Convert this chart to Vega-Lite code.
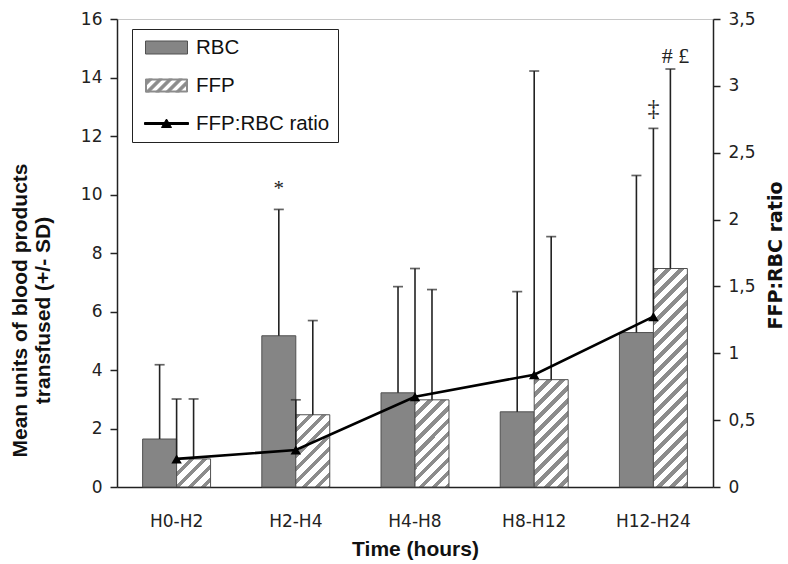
{
  "$schema": "https://vega.github.io/schema/vega-lite/v6.json",
  "width": 596,
  "height": 468,
  "autosize": {"type": "none"},
  "padding": {"left": 117, "top": 19, "right": 75, "bottom": 77},
  "background": "white",
  "config": {"view": {"stroke": "#c8c8c8", "strokeWidth": 1}, "font": "DejaVu Sans"},
  "datasets": {
    "bars": [
      {"time": "H0-H2", "series": "RBC", "value": 1.64, "upper": 4.18},
      {"time": "H0-H2", "series": "FFP", "value": 0.96, "upper": 3.01},
      {"time": "H2-H4", "series": "RBC", "value": 5.17, "upper": 9.49},
      {"time": "H2-H4", "series": "FFP", "value": 2.47, "upper": 5.69},
      {"time": "H4-H8", "series": "RBC", "value": 3.22, "upper": 6.85},
      {"time": "H4-H8", "series": "FFP", "value": 2.98, "upper": 6.75},
      {"time": "H8-H12", "series": "RBC", "value": 2.57, "upper": 6.68},
      {"time": "H8-H12", "series": "FFP", "value": 3.67, "upper": 8.56},
      {"time": "H12-H24", "series": "RBC", "value": 5.28, "upper": 10.65},
      {"time": "H12-H24", "series": "FFP", "value": 7.47, "upper": 14.29}
    ],
    "ratio": [
      {"time": "H0-H2", "ratio": 0.21, "upper": 0.658},
      {"time": "H2-H4", "ratio": 0.277, "upper": 0.652},
      {"time": "H4-H8", "ratio": 0.675, "upper": 1.634},
      {"time": "H8-H12", "ratio": 0.84, "upper": 3.111},
      {"time": "H12-H24", "ratio": 1.274, "upper": 2.682}
    ],
    "notesOffset": [
      {"time": "H2-H4", "series": "RBC", "y": 10.2, "label": "*"}
    ],
    "notesFFP": [
      {"time": "H12-H24", "series": "FFP", "y": 14.72, "label": "# £"}
    ],
    "notesCenter": [
      {"time": "H12-H24", "y": 12.94, "label": "‡"}
    ],
    "legendItems": [
      {"item": "RBC"}, {"item": "FFP"}, {"item": "FFP:RBC ratio"}
    ]
  },
  "encoding": {
    "x": {
      "field": "time",
      "type": "nominal",
      "scale": {"domain": ["H0-H2", "H2-H4", "H4-H8", "H8-H12", "H12-H24"], "paddingInner": 0.43, "paddingOuter": 0.215},
      "title": "Time (hours)",
      "axis": {
        "labelAngle": 0, "labelFontSize": 17, "labelFont": "DejaVu Sans", "labelColor": "#222",
        "ticks": false, "labelPadding": 26, "domainColor": "#222", "domainWidth": 1.5, "grid": false,
        "titleFont": "Liberation Sans Narrow, Arial Narrow, Liberation Sans", "titleFontSize": 21, "titleFontWeight": "bold",
        "titleColor": "#111", "titlePadding": 9
      }
    }
  },
  "layer": [
    {
      "layer": [
        {
          "data": {"name": "bars"},
          "mark": {"type": "bar", "stroke": "#505050", "strokeWidth": 1},
          "encoding": {
            "xOffset": {"field": "series", "type": "nominal", "scale": {"domain": ["RBC", "FFP"], "paddingInner": 0, "paddingOuter": 0}},
            "y": {
              "field": "value", "type": "quantitative", "scale": {"domain": [0, 16]},
              "axis": {
                "values": [0, 2, 4, 6, 8, 10, 12, 14, 16], "labelFontSize": 17, "labelFont": "DejaVu Sans", "labelColor": "#222",
                "labelPadding": 8, "tickSize": 7, "tickColor": "#222", "tickWidth": 1.5, "domainColor": "#222", "domainWidth": 1.5,
                "grid": false, "titleFont": "Liberation Sans Narrow, Arial Narrow, Liberation Sans", "titleFontSize": 21,
                "titleFontWeight": "bold", "titleColor": "#111", "titlePadding": 27, "titleY": 291
              },
              "title": ["Mean units of blood products", "transfused (+/- SD)"]
            },
            "fill": {
              "condition": [
                {"test": "datum.series === 'FFP' && datum.time === 'H0-H2'", "value": {"gradient": "linear", "x1": 0, "y1": 0, "x2": 4.544, "y2": 3.755, "stops": [
                  {"offset": 0, "color": "#8c8c8c"}, {"offset": 0.02, "color": "#8c8c8c"}, {"offset": 0.02, "color": "#ffffff"}, {"offset": 0.05, "color": "#ffffff"},
                  {"offset": 0.05, "color": "#8c8c8c"}, {"offset": 0.07, "color": "#8c8c8c"}, {"offset": 0.07, "color": "#ffffff"}, {"offset": 0.1, "color": "#ffffff"},
                  {"offset": 0.1, "color": "#8c8c8c"}, {"offset": 0.12, "color": "#8c8c8c"}, {"offset": 0.12, "color": "#ffffff"}, {"offset": 0.15, "color": "#ffffff"},
                  {"offset": 0.15, "color": "#8c8c8c"}, {"offset": 0.17, "color": "#8c8c8c"}, {"offset": 0.17, "color": "#ffffff"}, {"offset": 0.2, "color": "#ffffff"},
                  {"offset": 0.2, "color": "#8c8c8c"}, {"offset": 0.22, "color": "#8c8c8c"}, {"offset": 0.22, "color": "#ffffff"}, {"offset": 0.25, "color": "#ffffff"},
                  {"offset": 0.25, "color": "#8c8c8c"}, {"offset": 0.27, "color": "#8c8c8c"}, {"offset": 0.27, "color": "#ffffff"}, {"offset": 0.3, "color": "#ffffff"},
                  {"offset": 0.3, "color": "#8c8c8c"}, {"offset": 0.32, "color": "#8c8c8c"}, {"offset": 0.32, "color": "#ffffff"}, {"offset": 1, "color": "#ffffff"}
                ]}},
                {"test": "datum.series === 'FFP' && datum.time === 'H2-H4'", "value": {"gradient": "linear", "x1": 0, "y1": 0, "x2": 1.388, "y2": 2.948, "stops": [
                  {"offset": 0, "color": "#8c8c8c"}, {"offset": 0.02, "color": "#8c8c8c"}, {"offset": 0.02, "color": "#ffffff"}, {"offset": 0.05, "color": "#ffffff"},
                  {"offset": 0.05, "color": "#8c8c8c"}, {"offset": 0.07, "color": "#8c8c8c"}, {"offset": 0.07, "color": "#ffffff"}, {"offset": 0.1, "color": "#ffffff"},
                  {"offset": 0.1, "color": "#8c8c8c"}, {"offset": 0.12, "color": "#8c8c8c"}, {"offset": 0.12, "color": "#ffffff"}, {"offset": 0.15, "color": "#ffffff"},
                  {"offset": 0.15, "color": "#8c8c8c"}, {"offset": 0.17, "color": "#8c8c8c"}, {"offset": 0.17, "color": "#ffffff"}, {"offset": 0.2, "color": "#ffffff"},
                  {"offset": 0.2, "color": "#8c8c8c"}, {"offset": 0.22, "color": "#8c8c8c"}, {"offset": 0.22, "color": "#ffffff"}, {"offset": 0.25, "color": "#ffffff"},
                  {"offset": 0.25, "color": "#8c8c8c"}, {"offset": 0.27, "color": "#8c8c8c"}, {"offset": 0.27, "color": "#ffffff"}, {"offset": 0.3, "color": "#ffffff"},
                  {"offset": 0.3, "color": "#8c8c8c"}, {"offset": 0.32, "color": "#8c8c8c"}, {"offset": 0.32, "color": "#ffffff"}, {"offset": 0.35, "color": "#ffffff"},
                  {"offset": 0.35, "color": "#8c8c8c"}, {"offset": 0.37, "color": "#8c8c8c"}, {"offset": 0.37, "color": "#ffffff"}, {"offset": 0.4, "color": "#ffffff"},
                  {"offset": 0.4, "color": "#8c8c8c"}, {"offset": 0.42, "color": "#8c8c8c"}, {"offset": 0.42, "color": "#ffffff"}, {"offset": 0.45, "color": "#ffffff"},
                  {"offset": 0.45, "color": "#8c8c8c"}, {"offset": 0.47, "color": "#8c8c8c"}, {"offset": 0.47, "color": "#ffffff"}, {"offset": 1, "color": "#ffffff"}
                ]}},
                {"test": "datum.series === 'FFP' && datum.time === 'H4-H8'", "value": {"gradient": "linear", "x1": 0, "y1": 0, "x2": 1.009, "y2": 2.588, "stops": [
                  {"offset": 0, "color": "#8c8c8c"}, {"offset": 0.02, "color": "#8c8c8c"}, {"offset": 0.02, "color": "#ffffff"}, {"offset": 0.05, "color": "#ffffff"},
                  {"offset": 0.05, "color": "#8c8c8c"}, {"offset": 0.07, "color": "#8c8c8c"}, {"offset": 0.07, "color": "#ffffff"}, {"offset": 0.1, "color": "#ffffff"},
                  {"offset": 0.1, "color": "#8c8c8c"}, {"offset": 0.12, "color": "#8c8c8c"}, {"offset": 0.12, "color": "#ffffff"}, {"offset": 0.15, "color": "#ffffff"},
                  {"offset": 0.15, "color": "#8c8c8c"}, {"offset": 0.17, "color": "#8c8c8c"}, {"offset": 0.17, "color": "#ffffff"}, {"offset": 0.2, "color": "#ffffff"},
                  {"offset": 0.2, "color": "#8c8c8c"}, {"offset": 0.22, "color": "#8c8c8c"}, {"offset": 0.22, "color": "#ffffff"}, {"offset": 0.25, "color": "#ffffff"},
                  {"offset": 0.25, "color": "#8c8c8c"}, {"offset": 0.27, "color": "#8c8c8c"}, {"offset": 0.27, "color": "#ffffff"}, {"offset": 0.3, "color": "#ffffff"},
                  {"offset": 0.3, "color": "#8c8c8c"}, {"offset": 0.32, "color": "#8c8c8c"}, {"offset": 0.32, "color": "#ffffff"}, {"offset": 0.35, "color": "#ffffff"},
                  {"offset": 0.35, "color": "#8c8c8c"}, {"offset": 0.37, "color": "#8c8c8c"}, {"offset": 0.37, "color": "#ffffff"}, {"offset": 0.4, "color": "#ffffff"},
                  {"offset": 0.4, "color": "#8c8c8c"}, {"offset": 0.42, "color": "#8c8c8c"}, {"offset": 0.42, "color": "#ffffff"}, {"offset": 0.45, "color": "#ffffff"},
                  {"offset": 0.45, "color": "#8c8c8c"}, {"offset": 0.47, "color": "#8c8c8c"}, {"offset": 0.47, "color": "#ffffff"}, {"offset": 0.5, "color": "#ffffff"},
                  {"offset": 0.5, "color": "#8c8c8c"}, {"offset": 0.52, "color": "#8c8c8c"}, {"offset": 0.52, "color": "#ffffff"}, {"offset": 1, "color": "#ffffff"}
                ]}},
                {"test": "datum.series === 'FFP' && datum.time === 'H8-H12'", "value": {"gradient": "linear", "x1": 0, "y1": 0, "x2": 0.6977, "y2": 2.202, "stops": [
                  {"offset": 0, "color": "#8c8c8c"}, {"offset": 0.02, "color": "#8c8c8c"}, {"offset": 0.02, "color": "#ffffff"}, {"offset": 0.05, "color": "#ffffff"},
                  {"offset": 0.05, "color": "#8c8c8c"}, {"offset": 0.07, "color": "#8c8c8c"}, {"offset": 0.07, "color": "#ffffff"}, {"offset": 0.1, "color": "#ffffff"},
                  {"offset": 0.1, "color": "#8c8c8c"}, {"offset": 0.12, "color": "#8c8c8c"}, {"offset": 0.12, "color": "#ffffff"}, {"offset": 0.15, "color": "#ffffff"},
                  {"offset": 0.15, "color": "#8c8c8c"}, {"offset": 0.17, "color": "#8c8c8c"}, {"offset": 0.17, "color": "#ffffff"}, {"offset": 0.2, "color": "#ffffff"},
                  {"offset": 0.2, "color": "#8c8c8c"}, {"offset": 0.22, "color": "#8c8c8c"}, {"offset": 0.22, "color": "#ffffff"}, {"offset": 0.25, "color": "#ffffff"},
                  {"offset": 0.25, "color": "#8c8c8c"}, {"offset": 0.27, "color": "#8c8c8c"}, {"offset": 0.27, "color": "#ffffff"}, {"offset": 0.3, "color": "#ffffff"},
                  {"offset": 0.3, "color": "#8c8c8c"}, {"offset": 0.32, "color": "#8c8c8c"}, {"offset": 0.32, "color": "#ffffff"}, {"offset": 0.35, "color": "#ffffff"},
                  {"offset": 0.35, "color": "#8c8c8c"}, {"offset": 0.37, "color": "#8c8c8c"}, {"offset": 0.37, "color": "#ffffff"}, {"offset": 0.4, "color": "#ffffff"},
                  {"offset": 0.4, "color": "#8c8c8c"}, {"offset": 0.42, "color": "#8c8c8c"}, {"offset": 0.42, "color": "#ffffff"}, {"offset": 0.45, "color": "#ffffff"},
                  {"offset": 0.45, "color": "#8c8c8c"}, {"offset": 0.47, "color": "#8c8c8c"}, {"offset": 0.47, "color": "#ffffff"}, {"offset": 0.5, "color": "#ffffff"},
                  {"offset": 0.5, "color": "#8c8c8c"}, {"offset": 0.52, "color": "#8c8c8c"}, {"offset": 0.52, "color": "#ffffff"}, {"offset": 0.55, "color": "#ffffff"},
                  {"offset": 0.55, "color": "#8c8c8c"}, {"offset": 0.57, "color": "#8c8c8c"}, {"offset": 0.57, "color": "#ffffff"}, {"offset": 0.6, "color": "#ffffff"},
                  {"offset": 0.6, "color": "#8c8c8c"}, {"offset": 0.62, "color": "#8c8c8c"}, {"offset": 0.62, "color": "#ffffff"}, {"offset": 1, "color": "#ffffff"}
                ]}},
                {"test": "datum.series === 'FFP' && datum.time === 'H12-H24'", "value": {"gradient": "linear", "x1": 0, "y1": 0, "x2": 0.1808, "y2": 1.1618, "stops": [
                  {"offset": 0, "color": "#8c8c8c"}, {"offset": 0.02, "color": "#8c8c8c"}, {"offset": 0.02, "color": "#ffffff"}, {"offset": 0.05, "color": "#ffffff"},
                  {"offset": 0.05, "color": "#8c8c8c"}, {"offset": 0.07, "color": "#8c8c8c"}, {"offset": 0.07, "color": "#ffffff"}, {"offset": 0.1, "color": "#ffffff"},
                  {"offset": 0.1, "color": "#8c8c8c"}, {"offset": 0.12, "color": "#8c8c8c"}, {"offset": 0.12, "color": "#ffffff"}, {"offset": 0.15, "color": "#ffffff"},
                  {"offset": 0.15, "color": "#8c8c8c"}, {"offset": 0.17, "color": "#8c8c8c"}, {"offset": 0.17, "color": "#ffffff"}, {"offset": 0.2, "color": "#ffffff"},
                  {"offset": 0.2, "color": "#8c8c8c"}, {"offset": 0.22, "color": "#8c8c8c"}, {"offset": 0.22, "color": "#ffffff"}, {"offset": 0.25, "color": "#ffffff"},
                  {"offset": 0.25, "color": "#8c8c8c"}, {"offset": 0.27, "color": "#8c8c8c"}, {"offset": 0.27, "color": "#ffffff"}, {"offset": 0.3, "color": "#ffffff"},
                  {"offset": 0.3, "color": "#8c8c8c"}, {"offset": 0.32, "color": "#8c8c8c"}, {"offset": 0.32, "color": "#ffffff"}, {"offset": 0.35, "color": "#ffffff"},
                  {"offset": 0.35, "color": "#8c8c8c"}, {"offset": 0.37, "color": "#8c8c8c"}, {"offset": 0.37, "color": "#ffffff"}, {"offset": 0.4, "color": "#ffffff"},
                  {"offset": 0.4, "color": "#8c8c8c"}, {"offset": 0.42, "color": "#8c8c8c"}, {"offset": 0.42, "color": "#ffffff"}, {"offset": 0.45, "color": "#ffffff"},
                  {"offset": 0.45, "color": "#8c8c8c"}, {"offset": 0.47, "color": "#8c8c8c"}, {"offset": 0.47, "color": "#ffffff"}, {"offset": 0.5, "color": "#ffffff"},
                  {"offset": 0.5, "color": "#8c8c8c"}, {"offset": 0.52, "color": "#8c8c8c"}, {"offset": 0.52, "color": "#ffffff"}, {"offset": 0.55, "color": "#ffffff"},
                  {"offset": 0.55, "color": "#8c8c8c"}, {"offset": 0.57, "color": "#8c8c8c"}, {"offset": 0.57, "color": "#ffffff"}, {"offset": 0.6, "color": "#ffffff"},
                  {"offset": 0.6, "color": "#8c8c8c"}, {"offset": 0.62, "color": "#8c8c8c"}, {"offset": 0.62, "color": "#ffffff"}, {"offset": 0.65, "color": "#ffffff"},
                  {"offset": 0.65, "color": "#8c8c8c"}, {"offset": 0.67, "color": "#8c8c8c"}, {"offset": 0.67, "color": "#ffffff"}, {"offset": 0.7, "color": "#ffffff"},
                  {"offset": 0.7, "color": "#8c8c8c"}, {"offset": 0.72, "color": "#8c8c8c"}, {"offset": 0.72, "color": "#ffffff"}, {"offset": 0.75, "color": "#ffffff"},
                  {"offset": 0.75, "color": "#8c8c8c"}, {"offset": 0.77, "color": "#8c8c8c"}, {"offset": 0.77, "color": "#ffffff"}, {"offset": 0.8, "color": "#ffffff"},
                  {"offset": 0.8, "color": "#8c8c8c"}, {"offset": 0.82, "color": "#8c8c8c"}, {"offset": 0.82, "color": "#ffffff"}, {"offset": 0.85, "color": "#ffffff"},
                  {"offset": 0.85, "color": "#8c8c8c"}, {"offset": 0.87, "color": "#8c8c8c"}, {"offset": 0.87, "color": "#ffffff"}, {"offset": 0.9, "color": "#ffffff"},
                  {"offset": 0.9, "color": "#8c8c8c"}, {"offset": 0.92, "color": "#8c8c8c"}, {"offset": 0.92, "color": "#ffffff"}, {"offset": 0.95, "color": "#ffffff"},
                  {"offset": 0.95, "color": "#8c8c8c"}, {"offset": 0.97, "color": "#8c8c8c"}, {"offset": 0.97, "color": "#ffffff"}, {"offset": 1, "color": "#ffffff"}
                ]}}
              ],
              "value": "#858585"
            }
          }
        },
        {
          "data": {"name": "bars"},
          "mark": {"type": "rule", "color": "#222222", "strokeWidth": 1.6},
          "encoding": {
            "xOffset": {"field": "series", "type": "nominal", "scale": {"domain": ["RBC", "FFP"], "paddingInner": 0, "paddingOuter": 0}},
            "y": {"field": "value", "type": "quantitative", "title": ["Mean units of blood products", "transfused (+/- SD)"]},
            "y2": {"field": "upper"}
          }
        },
        {
          "data": {"name": "bars"},
          "mark": {"type": "tick", "color": "#222222", "thickness": 1.7, "size": 10, "orient": "horizontal"},
          "encoding": {
            "xOffset": {"field": "series", "type": "nominal", "scale": {"domain": ["RBC", "FFP"], "paddingInner": 0, "paddingOuter": 0}},
            "y": {"field": "upper", "type": "quantitative", "title": ["Mean units of blood products", "transfused (+/- SD)"]}
          }
        },
        {
          "data": {"name": "notesOffset"},
          "mark": {"type": "text", "font": "Liberation Serif", "fontSize": 21, "color": "#222"},
          "encoding": {
            "xOffset": {"field": "series", "type": "nominal", "scale": {"domain": ["RBC", "FFP"], "paddingInner": 0, "paddingOuter": 0}},
            "y": {"field": "y", "type": "quantitative", "title": ["Mean units of blood products", "transfused (+/- SD)"]},
            "text": {"field": "label"}
          }
        },
        {
          "data": {"name": "notesFFP"},
          "mark": {"type": "text", "font": "Liberation Serif", "fontSize": 22, "color": "#222", "dx": 5},
          "encoding": {
            "xOffset": {"field": "series", "type": "nominal", "scale": {"domain": ["RBC", "FFP"], "paddingInner": 0, "paddingOuter": 0}},
            "y": {"field": "y", "type": "quantitative", "title": ["Mean units of blood products", "transfused (+/- SD)"]},
            "text": {"field": "label"}
          }
        },
        {
          "data": {"name": "notesCenter"},
          "mark": {"type": "text", "font": "Liberation Serif", "fontSize": 24, "color": "#222"},
          "encoding": {
            "y": {"field": "y", "type": "quantitative", "title": ["Mean units of blood products", "transfused (+/- SD)"]},
            "text": {"field": "label"}
          }
        },
        {
          "data": {"name": "legendItems"},
          "transform": [{"filter": "false"}],
          "mark": {"type": "point", "filled": true, "size": 400, "strokeWidth": 1, "opacity": 1},
          "encoding": {
            "shape": {
              "field": "item", "type": "nominal",
              "scale": {
                "domain": ["RBC", "FFP", "FFP:RBC ratio"],
                "range": [
                  "M-2.1,-0.65H2.1V0.65H-2.1Z",
                  "M-2.1,-0.65H2.1V0.65H-2.1Z M-2,-0.55V0.55H2V-0.55Z M-1.8,-0.65L-1.4,-0.65L-2.1,0.05L-2.1,-0.35Z M-0.8,-0.65L-0.4,-0.65L-1.7,0.65L-2.1,0.65Z M0.2,-0.65L0.6,-0.65L-0.7,0.65L-1.1,0.65Z M1.2,-0.65L1.6,-0.65L0.3,0.65L-0.1,0.65Z M2.1,-0.55L2.1,-0.15L1.3,0.65L0.9,0.65Z",
                  "M-2.2,-0.1H2.2V0.1H-2.2Z M-0.5,0.4L0,-0.45L0.5,0.4Z"
                ]
              },
              "legend": {
                "orient": "none", "legendX": 15, "legendY": 10, "title": null, "padding": 8, "rowPadding": 17,
                "symbolOffset": 16, "labelOffset": 19, "labelFontSize": 20.5, "labelFont": "Liberation Sans", "labelColor": "#111",
                "strokeColor": "#222", "fillColor": "white", "symbolSize": 400, "symbolStrokeWidth": 1, "symbolOpacity": 1, "labelLimit": 300
              }
            },
            "fill": {
              "field": "item", "type": "nominal",
              "scale": {"domain": ["RBC", "FFP", "FFP:RBC ratio"], "range": ["#858585", "#8c8c8c", "#000000"]},
              "legend": {
                "orient": "none", "legendX": 15, "legendY": 10, "title": null, "padding": 8, "rowPadding": 17,
                "symbolOffset": 16, "labelOffset": 19, "labelFontSize": 20.5, "labelFont": "Liberation Sans", "labelColor": "#111",
                "strokeColor": "#222", "fillColor": "white", "symbolSize": 400, "symbolStrokeWidth": 1, "symbolOpacity": 1, "labelLimit": 300
              }
            },
            "stroke": {
              "field": "item", "type": "nominal",
              "scale": {"domain": ["RBC", "FFP", "FFP:RBC ratio"], "range": ["#505050", "#8c8c8c", "#000000"]},
              "legend": {
                "orient": "none", "legendX": 15, "legendY": 10, "title": null, "padding": 8, "rowPadding": 17,
                "symbolOffset": 16, "labelOffset": 19, "labelFontSize": 20.5, "labelFont": "Liberation Sans", "labelColor": "#111",
                "strokeColor": "#222", "fillColor": "white", "symbolSize": 400, "symbolStrokeWidth": 1, "symbolOpacity": 1, "labelLimit": 300
              }
            }
          }
        }
      ]
    },
    {
      "data": {"name": "ratio"},
      "layer": [
        {
          "mark": {"type": "rule", "color": "#222222", "strokeWidth": 1.6},
          "encoding": {
            "y": {
              "field": "ratio", "type": "quantitative", "scale": {"domain": [0, 3.5]},
              "axis": {
                "orient": "right", "values": [0, 0.5, 1, 1.5, 2, 2.5, 3, 3.5],
                "labelExpr": "replace(format(datum.value, '~g'), '.', ',')",
                "labelFontSize": 17, "labelFont": "DejaVu Sans", "labelColor": "#222", "labelPadding": 8,
                "tickSize": 7, "tickColor": "#222", "tickWidth": 1.5, "domainColor": "#222", "domainWidth": 1.5, "grid": false,
                "titleFont": "DejaVu Sans", "titleFontSize": 19, "titleFontWeight": "bold", "titleColor": "#111",
                "titleAngle": 270, "titleAlign": "center", "titleBaseline": "middle", "titleX": 62, "titleY": 236
              },
              "title": "FFP:RBC ratio"
            },
            "y2": {"field": "upper"}
          }
        },
        {
          "mark": {"type": "tick", "color": "#222222", "thickness": 1.7, "size": 10, "orient": "horizontal"},
          "encoding": {"y": {"field": "upper", "type": "quantitative", "title": "FFP:RBC ratio"}}
        },
        {
          "mark": {"type": "line", "color": "#000000", "strokeWidth": 2.6},
          "encoding": {"y": {"field": "ratio", "type": "quantitative", "title": "FFP:RBC ratio"}}
        },
        {
          "mark": {"type": "point", "shape": "triangle-up", "filled": true, "color": "#000000", "size": 110, "opacity": 1},
          "encoding": {"y": {"field": "ratio", "type": "quantitative", "title": "FFP:RBC ratio"}}
        }
      ]
    }
  ],
  "resolve": {"scale": {"y": "independent"}}
}
